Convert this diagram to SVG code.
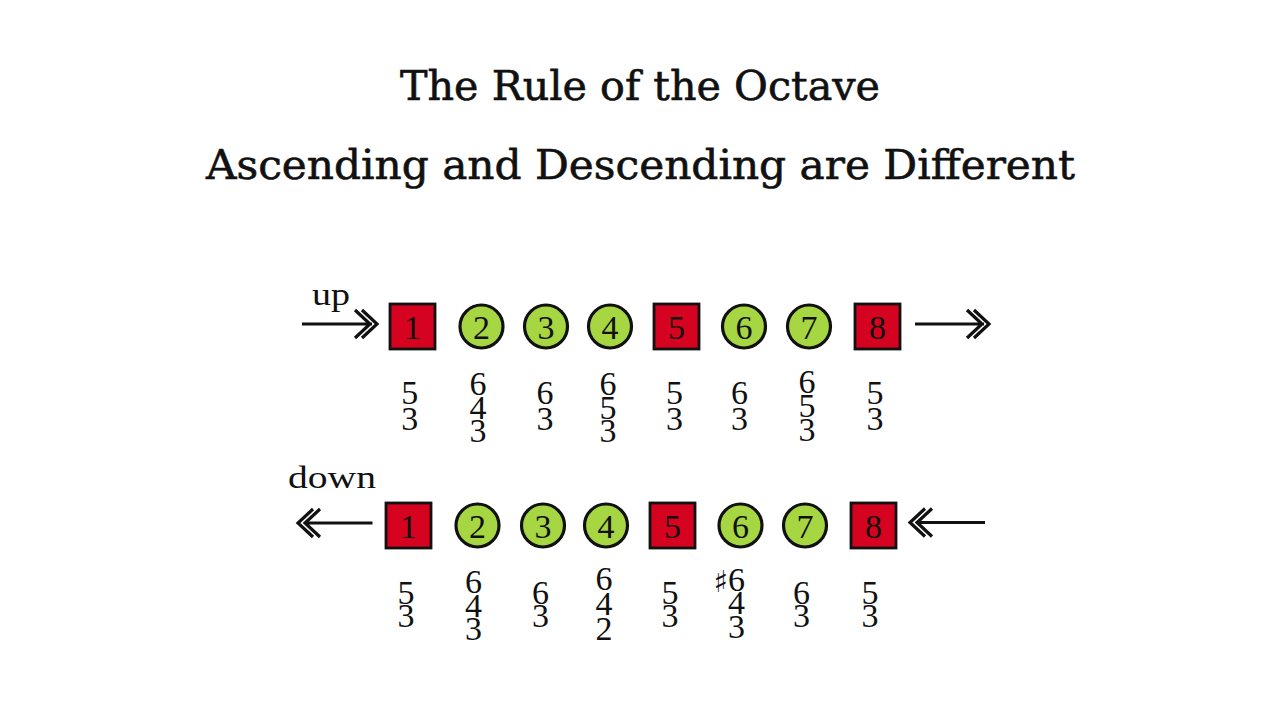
<svg xmlns="http://www.w3.org/2000/svg" width="1280" height="720" viewBox="0 0 1280 720">
<style>
.bg{fill:#ffffff}
.title{font-family:"DejaVu Serif","Liberation Serif",serif;font-size:41px;fill:#111;stroke:#111;stroke-width:0.6;text-anchor:middle}
.sq{fill:#D5031F;stroke:#111;stroke-width:2.8}
.ci{fill:#A6D742;stroke:#111;stroke-width:3.2}
.num{font-family:"Liberation Serif",serif;font-size:34px;fill:#111;text-anchor:middle}
.fig{font-family:"Liberation Serif",serif;font-size:34px;fill:#111;text-anchor:middle}
.lbl{font-family:"Liberation Serif",serif;font-size:32px;fill:#111}
.arr{fill:none;stroke:#111;stroke-width:3.2;stroke-linecap:butt;stroke-linejoin:miter}
.sharp{font-family:"DejaVu Sans",sans-serif;font-size:30px;fill:#111;text-anchor:middle}
</style>
<rect class="bg" x="0" y="0" width="1280" height="720"/>
<g id="titles">
<text class="title" x="640" y="100" textLength="480" lengthAdjust="spacingAndGlyphs">The Rule of the Octave</text>
<text class="title" x="640.5" y="179" textLength="869" lengthAdjust="spacingAndGlyphs">Ascending and Descending are Different</text>
</g>
<g id="labels">
<text class="lbl" x="312" y="305" textLength="38" lengthAdjust="spacingAndGlyphs">up</text>
<text class="lbl" x="288" y="488" textLength="88" lengthAdjust="spacingAndGlyphs">down</text>
</g>
<g id="connectors">
<path class="arr" d="M302 324 H372 M362 310 L377 324 L362 338 M355 310 L370 324 L355 338"/>
<path class="arr" d="M915 324 H984 M974 310 L989 324 L974 338 M967 310 L982 324 L967 338"/>
<path class="arr" d="M372.5 523 H304 M313 509 L298 523 L313 537 M320 509 L305 523 L320 537"/>
<path class="arr" d="M985 522.5 H917 M925 508.5 L910 522.5 L925 536.5 M932 508.5 L917 522.5 L932 536.5"/>
</g>
<g id="up-row">
<g id="up-1"><rect class="sq" x="390" y="304" width="45" height="45"/><text class="num" x="412.5" y="339">1</text></g>
<g id="up-2"><circle class="ci" cx="481.5" cy="326.5" r="21.5"/><text class="num" x="481.5" y="339">2</text></g>
<g id="up-3"><circle class="ci" cx="546" cy="326.5" r="21.5"/><text class="num" x="546" y="339">3</text></g>
<g id="up-4"><circle class="ci" cx="610" cy="326.5" r="21.5"/><text class="num" x="610" y="339">4</text></g>
<g id="up-5"><rect class="sq" x="654" y="304" width="45" height="45"/><text class="num" x="676.5" y="339">5</text></g>
<g id="up-6"><circle class="ci" cx="744" cy="326.5" r="21.5"/><text class="num" x="744" y="339">6</text></g>
<g id="up-7"><circle class="ci" cx="809" cy="326.5" r="21.5"/><text class="num" x="809" y="339">7</text></g>
<g id="up-8"><rect class="sq" x="855" y="304" width="45" height="45"/><text class="num" x="877.5" y="339">8</text></g>
</g>
<g id="up-figures">
<text class="fig" x="409.7" y="404">5</text><text class="fig" x="409.7" y="429.5">3</text>
<text class="fig" x="478" y="395">6</text><text class="fig" x="478" y="418.5">4</text><text class="fig" x="478" y="442">3</text>
<text class="fig" x="545" y="404">6</text><text class="fig" x="545" y="429.5">3</text>
<text class="fig" x="608" y="395">6</text><text class="fig" x="608" y="418.5">5</text><text class="fig" x="608" y="442">3</text>
<text class="fig" x="674.5" y="404">5</text><text class="fig" x="674.5" y="429.5">3</text>
<text class="fig" x="739.5" y="404">6</text><text class="fig" x="739.5" y="429.5">3</text>
<text class="fig" x="807" y="393">6</text><text class="fig" x="807" y="417">5</text><text class="fig" x="807" y="441">3</text>
<text class="fig" x="875" y="404">5</text><text class="fig" x="875" y="429.5">3</text>
</g>
<g id="down-row">
<g id="down-1"><rect class="sq" x="386" y="503" width="45" height="45"/><text class="num" x="408.5" y="537.5">1</text></g>
<g id="down-2"><circle class="ci" cx="477.5" cy="525.5" r="21.5"/><text class="num" x="477.5" y="537.5">2</text></g>
<g id="down-3"><circle class="ci" cx="543" cy="525.5" r="21.5"/><text class="num" x="543" y="537.5">3</text></g>
<g id="down-4"><circle class="ci" cx="606" cy="525.5" r="21.5"/><text class="num" x="606" y="537.5">4</text></g>
<g id="down-5"><rect class="sq" x="650" y="503" width="45" height="45"/><text class="num" x="672.5" y="537.5">5</text></g>
<g id="down-6"><circle class="ci" cx="740.5" cy="525.5" r="21.5"/><text class="num" x="740.5" y="537.5">6</text></g>
<g id="down-7"><circle class="ci" cx="805" cy="525.5" r="21.5"/><text class="num" x="805" y="537.5">7</text></g>
<g id="down-8"><rect class="sq" x="851" y="503" width="45" height="45"/><text class="num" x="873.5" y="537.5">8</text></g>
</g>
<g id="down-figures">
<text class="fig" x="406" y="604">5</text><text class="fig" x="406" y="627">3</text>
<text class="fig" x="473.5" y="593">6</text><text class="fig" x="473.5" y="616.5">4</text><text class="fig" x="473.5" y="640">3</text>
<text class="fig" x="540.5" y="604">6</text><text class="fig" x="540.5" y="627">3</text>
<text class="fig" x="604" y="590">6</text><text class="fig" x="604" y="615">4</text><text class="fig" x="604" y="640">2</text>
<text class="fig" x="670" y="604">5</text><text class="fig" x="670" y="627">3</text>
<text class="sharp" x="721" y="592">♯</text><text class="fig" x="736.5" y="591">6</text><text class="fig" x="736.5" y="614">4</text><text class="fig" x="736.5" y="638">3</text>
<text class="fig" x="801.5" y="604">6</text><text class="fig" x="801.5" y="627">3</text>
<text class="fig" x="870" y="604">5</text><text class="fig" x="870" y="627">3</text>
</g>
</svg>
